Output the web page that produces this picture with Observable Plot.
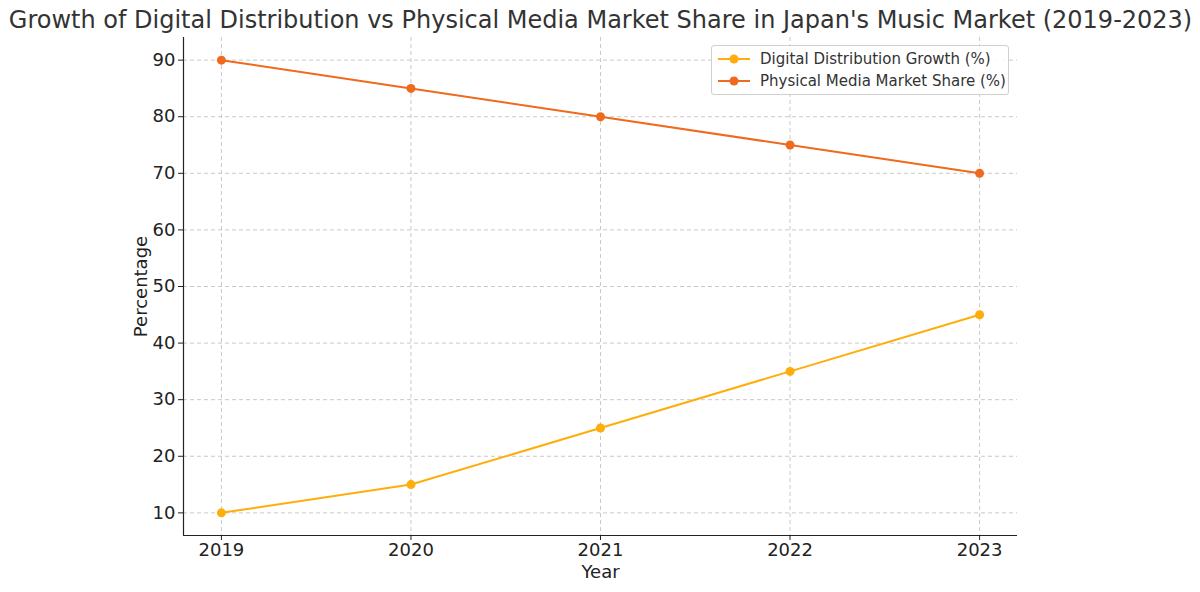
<!DOCTYPE html>
<html>
<head>
<meta charset="utf-8">
<script src="https://cdn.jsdelivr.net/npm/d3@7"></script>
<script src="https://cdn.jsdelivr.net/npm/@observablehq/plot@0.6"></script>
<style>
  html, body { margin: 0; padding: 0; background: #fff; }
  #wrap { position: relative; width: 1200px; height: 592px; font-family: "DejaVu Sans", sans-serif; }
  #legend { position: absolute; left: 711px; top: 45px; width: 296px; height: 48px; border: 1px solid #d0d0d0; border-radius: 3px; background: rgba(255,255,255,0.85); font-size: 15px; color: #333; }
  .row { position: absolute; left: 0; height: 20px; display: flex; align-items: center; white-space: nowrap; }
  .row svg { margin-left: 6px; margin-right: 10px; }
</style>
</head>
<body>
<div id="wrap"></div>
<script>
const years = [2019, 2020, 2021, 2022, 2023];
const digital = [10, 15, 25, 35, 45];
const physical = [90, 85, 80, 75, 70];
const seriesNames = ["Digital Distribution Growth (%)", "Physical Media Market Share (%)"];
const seriesColors = ["#FFAD0A", "#F06A1E"];
const yTicks = [10, 20, 30, 40, 50, 60, 70, 80, 90];

const rows = [];
years.forEach((y, i) => {
  rows.push({year: y, value: digital[i], series: seriesNames[0]});
  rows.push({year: y, value: physical[i], series: seriesNames[1]});
});

const chart = Plot.plot({
  width: 1200,
  height: 592,
  marginLeft: 183,
  marginRight: 183,
  marginTop: 37,
  marginBottom: 57,
  style: {fontFamily: "DejaVu Sans, sans-serif", fontSize: "18px", color: "#222", background: "#fff"},
  x: {domain: [2018.8, 2023.2]},
  y: {domain: [6, 94]},
  color: {domain: seriesNames, range: seriesColors},
  marks: [
    Plot.gridX(years, {stroke: "#bbb", strokeOpacity: 1, strokeDasharray: "4,3", strokeWidth: 0.8}),
    Plot.gridY(yTicks, {stroke: "#bbb", strokeOpacity: 1, strokeDasharray: "4,3", strokeWidth: 0.8}),
    Plot.axisX(years, {tickFormat: d => String(d), tickSize: 5, tickPadding: 3, fontSize: 18, label: null}),
    Plot.axisY(yTicks, {tickSize: 5, tickPadding: 3, fontSize: 18, label: null}),
    Plot.ruleX([2018.8], {stroke: "#222", strokeWidth: 1.2}),
    Plot.ruleY([6], {stroke: "#222", strokeWidth: 1.2}),
    Plot.line(rows, {x: "year", y: "value", z: "series", stroke: "series", strokeWidth: 2}),
    Plot.dot(rows, {x: "year", y: "value", fill: "series", r: 4.5}),
    Plot.text(["Year"], {frameAnchor: "bottom", lineAnchor: "middle", textAnchor: "middle", dy: 37, fontSize: 18, fill: "#222"}),
    Plot.text(["Percentage"], {frameAnchor: "left", lineAnchor: "middle", textAnchor: "middle", dx: -42, rotate: -90, fontSize: 18, fill: "#222"}),
    Plot.text(["Growth of Digital Distribution vs Physical Media Market Share in Japan's Music Market (2019-2023)"],
      {frameAnchor: "top", lineAnchor: "middle", textAnchor: "middle", dy: -17, fontSize: 24, fill: "#333"})
  ]
});
document.getElementById("wrap").appendChild(chart);

const legend = document.createElement("div");
legend.id = "legend";
seriesNames.forEach((name, i) => {
  const row = document.createElement("div");
  row.className = "row";
  row.style.top = (3 + i * 22) + "px";
  row.innerHTML = `<svg width="32" height="12"><line x1="0" x2="32" y1="6" y2="6" stroke="${seriesColors[i]}" stroke-width="2"/><circle cx="16" cy="6" r="4.5" fill="${seriesColors[i]}"/></svg><span>${name}</span>`;
  legend.appendChild(row);
});
document.getElementById("wrap").appendChild(legend);
</script>
</body>
</html>
